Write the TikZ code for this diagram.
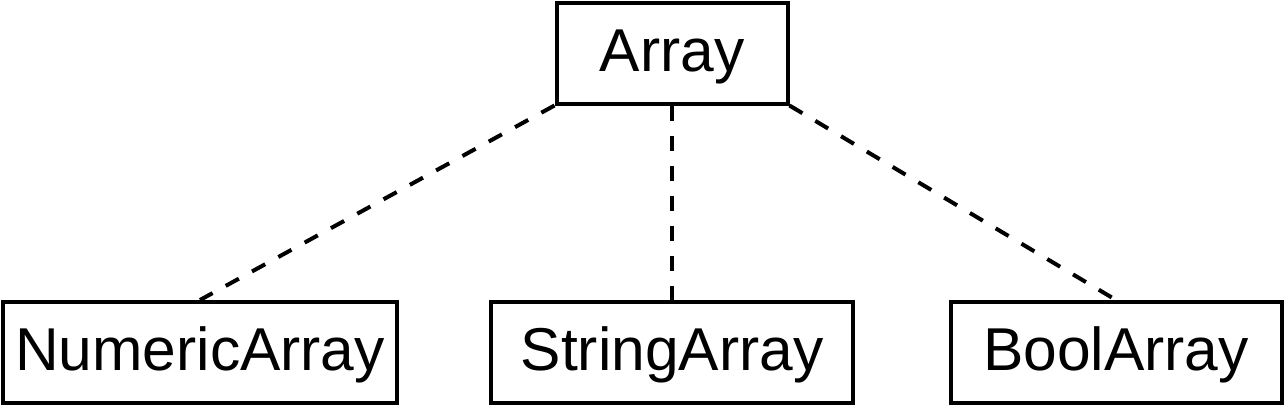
\documentclass[tikz,border=0pt]{standalone}
\usepackage{fontspec}
\setmainfont{Liberation Sans}
\begin{document}
\begin{tikzpicture}[x=1pt,y=-1pt,
  cls/.style={draw=black, line width=4pt, fill=white, inner sep=0pt, text height=44pt, text depth=8pt, minimum height=101pt, font=\fontsize{60.5}{72}\selectfont},
  link/.style={draw=black, line width=4pt, dash pattern=on 15pt off 15pt}]
\useasboundingbox (0,0) rectangle (1285,410);
\node[cls, minimum width=231pt] (arr) at (672,53) {Array};
\node[cls, minimum width=394pt] (num) at (200,352.5) {NumericArray};
\node[cls, minimum width=362pt] (str) at (672,352.5) {StringArray};
\node[cls, minimum width=331pt] (bool) at (1116,352.5) {BoolArray};
\draw[link] (arr.south west) -- (num.north);
\draw[link] (arr.south) -- (str.north);
\draw[link] (arr.south east) -- (bool.north);
\end{tikzpicture}
\end{document}
